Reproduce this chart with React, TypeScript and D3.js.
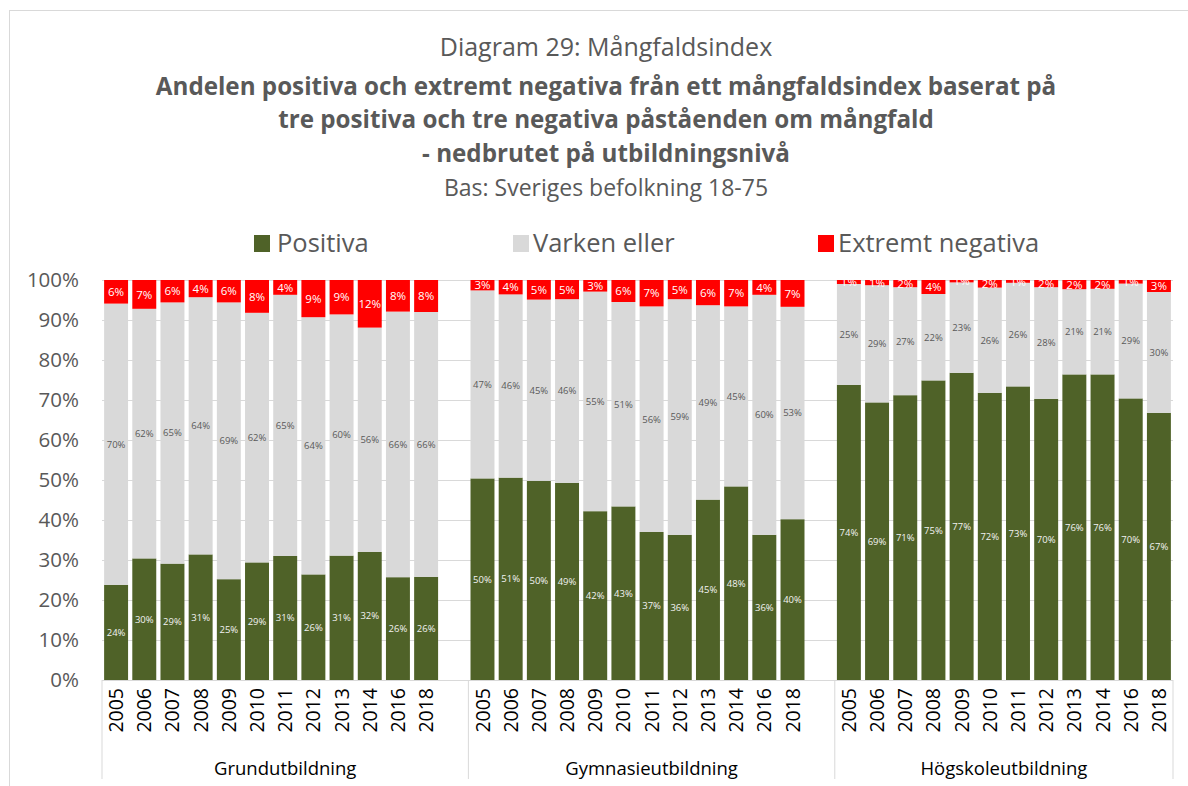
import React from "react";
import * as d3 from "d3";

const years = ["2005", "2006", "2007", "2008", "2009", "2010", "2011", "2012", "2013", "2014", "2016", "2018"];
const groups = ["Grundutbildning", "Gymnasieutbildning", "Högskoleutbildning"];
const seriesNames = ["Positiva", "Varken eller", "Extremt negativa"];
const yTicks = [0, 10, 20, 30, 40, 50, 60, 70, 80, 90, 100];

// Grundutbildning
const positivaGrund = [23.8, 30.4, 29.1, 31.4, 25.2, 29.4, 31.0, 26.4, 31.1, 32.0, 25.7, 25.8];
const varkenGrund = [70.3, 62.4, 65.3, 64.3, 69.2, 62.4, 65.3, 64.3, 60.3, 56.1, 66.4, 66.2];
const negativaGrund = [5.9, 7.2, 5.6, 4.3, 5.6, 8.2, 3.7, 9.3, 8.6, 11.9, 7.9, 8.0];

// Gymnasieutbildning
const positivaGymn = [50.4, 50.6, 49.8, 49.3, 42.2, 43.4, 37.0, 36.3, 45.1, 48.4, 36.3, 40.2];
const varkenGymn = [47.0, 45.8, 45.3, 45.9, 54.9, 51.1, 56.4, 58.9, 48.6, 45.0, 60.0, 53.1];
const negativaGymn = [2.6, 3.6, 4.9, 4.8, 2.9, 5.5, 6.6, 4.8, 6.3, 6.6, 3.7, 6.7];

// Högskoleutbildning
const positivaHogsk = [73.8, 69.4, 71.2, 74.9, 76.8, 71.8, 73.4, 70.3, 76.4, 76.4, 70.4, 66.8];
const varkenHogsk = [25.2, 29.3, 27.0, 21.6, 22.6, 26.3, 25.9, 27.9, 21.3, 21.4, 28.7, 30.2];
const negativaHogsk = [1.0, 1.3, 1.8, 3.5, 0.6, 1.9, 0.7, 1.8, 2.3, 2.2, 0.9, 3.0];

const positiva = [positivaGrund, positivaGymn, positivaHogsk];
const varken = [varkenGrund, varkenGymn, varkenHogsk];
const negativa = [negativaGrund, negativaGymn, negativaHogsk];

const colors = ["#4f6228", "#d9d9d9", "#ff0000"];
const labelColors = ["#f2f2f2", "#595959", "#ffffff"];
const labelSizes = [9.5, 9.5, 11.5];
const FONT = "'Open Sans', 'DejaVu Sans', sans-serif";

type Slot = { key: string; g: number; yi: number | null };
const slots: Slot[] = [];
groups.forEach((_, g) => {
  years.forEach((y, yi) => slots.push({ key: `${g}-${y}`, g, yi }));
  if (g < groups.length - 1) slots.push({ key: `${g}-blank`, g, yi: null });
});

export default function App() {
  const W = 1188;
  const H = 786;
  const left = 102;
  const right = 1173;
  const top = 280;
  const bottom = 680;

  const x = d3.scaleBand<string>().domain(slots.map((s) => s.key)).range([left, right]).paddingInner(0.15).paddingOuter(0.075);
  const y = d3.scaleLinear().domain([0, 100]).range([bottom, top]);
  const step = x.step();

  const groupBounds = groups.map((_, g) => {
    const gs = slots.filter((s) => s.g === g);
    const start = (x(gs[0].key) as number) - step * 0.075;
    const end = Math.min(right, (x(gs[gs.length - 1].key) as number) - step * 0.075 + step);
    return [start, end];
  });
  const dividers = [left, ...groupBounds.slice(0, -1).map((b) => b[1]), right];

  const bars: any[] = [];
  slots.forEach((s) => {
    if (s.yi === null) return;
    const vals = [positiva[s.g][s.yi], varken[s.g][s.yi], negativa[s.g][s.yi]];
    const stack = d3.stack<number[]>().keys(["0", "1", "2"]).value((d, k) => d[+k])([vals]);
    stack.forEach((layer, i) => {
      const [y0, y1] = layer[0];
      bars.push({ key: s.key, i, y0, y1, v: vals[i] });
    });
  });

  const legendItems = [
    { x: 254, textX: 277 },
    { x: 513, textX: 533 },
    { x: 818, textX: 838 },
  ];

  return (
    <svg width={W} height={H} style={{ position: "absolute", left: 0, top: 0, background: "#fff" }} fontFamily={FONT}>
      <defs>
        <clipPath id="plotClip">
          <rect x={left} y={top - 1} width={right - left} height={bottom - top + 1} />
        </clipPath>
      </defs>
      <rect x={9.5} y={10.5} width={W} height={H} fill="#fff" stroke="#d9d9d9" strokeWidth={1} />

      {/* Title */}
      <g textAnchor="middle" fill="#595959">
        <text x={606} y={56} fontSize={25}>Diagram 29: Mångfaldsindex</text>
        <text x={606} y={95} fontSize={24.2} fontWeight="bold">Andelen positiva och extremt negativa från ett mångfaldsindex baserat på</text>
        <text x={606} y={128} fontSize={24.2} fontWeight="bold">tre positiva och tre negativa påståenden om mångfald</text>
        <text x={606} y={162} fontSize={24.2} fontWeight="bold">- nedbrutet på utbildningsnivå</text>
        <text x={606} y={196} fontSize={23}>Bas: Sveriges befolkning 18-75</text>
      </g>

      {/* Legend */}
      {seriesNames.map((n, i) => (
        <g key={n}>
          <rect x={legendItems[i].x} y={235} width={16} height={17} fill={colors[i]} />
          <text x={legendItems[i].textX} y={252} fontSize={25.5} fill="#595959">{n}</text>
        </g>
      ))}

      {/* Gridlines */}
      {yTicks.map((t) => (
        <line key={t} x1={left} x2={right} y1={y(t) + 0.5} y2={y(t) + 0.5} stroke="#d9d9d9" strokeWidth={1} />
      ))}
      {/* Y labels */}
      {yTicks.map((t) => (
        <text key={"l" + t} x={79} y={y(t)} dy="0.36em" textAnchor="end" fontSize={20.5} fill="#595959">{t}%</text>
      ))}

      {/* Bars */}
      {bars.map((b) => (
        <rect key={b.key + b.i} x={x(b.key)} width={x.bandwidth()} y={y(b.y1)} height={y(b.y0) - y(b.y1)} fill={colors[b.i]} />
      ))}
      {/* Bar labels */}
      <g clipPath="url(#plotClip)">
        {bars.map((b) => (
          <text key={"t" + b.key + b.i} x={(x(b.key) as number) + x.bandwidth() / 2} y={(y(b.y0) + y(b.y1)) / 2} dy="0.36em" textAnchor="middle" fontSize={labelSizes[b.i]} fill={labelColors[b.i]}>
            {Math.round(b.v)}%
          </text>
        ))}
      </g>

      {/* Category axis */}
      <line x1={left} x2={right} y1={bottom + 0.5} y2={bottom + 0.5} stroke="#d9d9d9" />
      {dividers.map((d, i) => (
        <line key={"d" + i} x1={d} x2={d} y1={bottom} y2={779} stroke="#d9d9d9" />
      ))}
      {slots.filter((s) => s.yi !== null).map((s) => (
        <text key={"y" + s.key} transform={`translate(${(x(s.key) as number) + x.bandwidth() / 2},688) rotate(-90)`} textAnchor="end" dy="0.36em" fontSize={19.5} fill="#000">
          {years[s.yi as number]}
        </text>
      ))}
      {groups.map((g, i) => {
        const cx = (groupBounds[i][0] + groupBounds[i][1]) / 2;
        return (
          <text key={g} x={cx} y={768} dy="0.36em" textAnchor="middle" fontSize={18.5} fill="#000">{g}</text>
        );
      })}
    </svg>
  );
}
